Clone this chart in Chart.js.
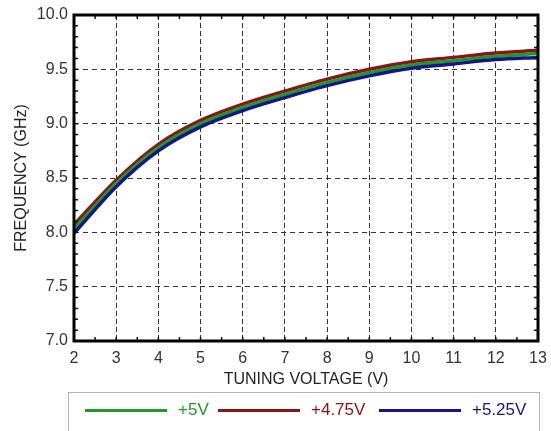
<!DOCTYPE html>
<html>
<head>
<meta charset="utf-8">
<script src="https://cdn.jsdelivr.net/npm/chart.js"></script>
<style>
    html, body { margin: 0; padding: 0; background: #fff; }
    #wrap { position: relative; width: 551px; height: 431px; }
    #legend {
        position: absolute; left: 68px; top: 392px; width: 472px; height: 45px;
        border: 1px solid #b5b5b5; box-sizing: border-box;
        font-family: "Liberation Sans", Arial, sans-serif; font-size: 17px;
    }
    .item { position: absolute; top: 5px; height: 24px; display: flex; align-items: center; }
    .item .line { display: inline-block; width: 82px; height: 3px; margin-right: 11px; }
</style>
</head>
<body>
<div id="wrap">
    <canvas id="chart" width="551" height="431"></canvas>
    <div id="legend"></div>
</div>
<script>
// Tuning voltage (V)
const voltages = [2, 3, 4, 5, 6, 7, 8, 9, 10, 11, 12, 13];
// Frequency (GHz) per supply voltage
const freq5V = [8.03, 8.45, 8.78, 9.00, 9.15, 9.27, 9.38, 9.47, 9.54, 9.58, 9.62, 9.645];
const freq475V = [8.07, 8.48, 8.81, 9.03, 9.18, 9.30, 9.41, 9.50, 9.57, 9.61, 9.65, 9.675];
const freq525V = [7.99, 8.42, 8.75, 8.97, 9.12, 9.24, 9.35, 9.44, 9.51, 9.55, 9.59, 9.61];
const seriesNames = ['+5V', '+4.75V', '+5.25V'];
const seriesColors = ['#1f9a2a', '#8b1414', '#14148c'];
const legendLeft = [16, 149, 310];

const font = '"Liberation Sans", Arial, sans-serif';

// small inward ticks on all four sides of the frame
const frameTicks = {
    id: 'frameTicks',
    afterDraw(chart) {
        const { ctx, chartArea: a, scales: { x, y } } = chart;
        ctx.save();
        ctx.strokeStyle = '#111';
        ctx.lineWidth = 1.5;
        ctx.beginPath();
        for (let v = 2; v <= 13.001; v += 0.5) {
            const px = x.getPixelForValue(v);
            ctx.moveTo(px, a.bottom); ctx.lineTo(px, a.bottom - 4);
            ctx.moveTo(px, a.top); ctx.lineTo(px, a.top + 4);
        }
        for (let v = 7; v <= 10.001; v += 0.1) {
            const py = y.getPixelForValue(v);
            ctx.moveTo(a.left, py); ctx.lineTo(a.left + 4, py);
            ctx.moveTo(a.right, py); ctx.lineTo(a.right - 4, py);
        }
        ctx.stroke();
        ctx.lineWidth = 3;
        ctx.strokeStyle = '#000';
        ctx.strokeRect(a.left, a.top, a.right - a.left, a.bottom - a.top);
        ctx.restore();
    }
};

const makeSet = (i, data) => ({
    label: seriesNames[i],
    data: data.map((f, k) => ({ x: voltages[k], y: f })),
    borderColor: seriesColors[i],
    backgroundColor: seriesColors[i],
    borderWidth: 3.5,
    pointRadius: 0,
    cubicInterpolationMode: 'monotone'
});

const gridOpts = { color: '#333', lineWidth: 1, drawTicks: false };

const chart = new Chart(document.getElementById('chart'), {
    type: 'line',
    data: {
        datasets: [makeSet(2, freq525V), makeSet(0, freq5V), makeSet(1, freq475V)]
    },
    options: {
        responsive: false,
        animation: false,
        layout: { padding: { top: 15, right: 13, bottom: 38, left: 8 } },
        plugins: { legend: { display: false }, tooltip: { enabled: false } },
        scales: {
            x: {
                type: 'linear', min: 2, max: 13,
                ticks: { stepSize: 1, color: '#333', font: { family: font, size: 16 }, padding: 8 },
                grid: gridOpts,
                border: { display: false, dash: [5, 3] },
                title: { display: true, text: 'TUNING VOLTAGE (V)', color: '#222', font: { family: font, size: 16 }, padding: { top: 0 } },
                afterFit(s) { s.height = 52; s.paddingLeft = 0; s.paddingRight = 0; }
            },
            y: {
                type: 'linear', min: 7, max: 10,
                ticks: { stepSize: 0.5, color: '#333', font: { family: font, size: 16 }, padding: 6,
                    callback: v => v.toFixed(1) },
                grid: gridOpts,
                border: { display: false, dash: [5, 4] },
                title: { display: true, text: 'FREQUENCY (GHz)', color: '#222', font: { family: font, size: 16 }, padding: { bottom: 4 } },
                afterFit(s) { s.width = 66; s.paddingTop = 0; s.paddingBottom = 0; }
            }
        }
    },
    plugins: [frameTicks]
});

// legend box under the chart
const legend = document.getElementById('legend');
[0, 1, 2].forEach((i, n) => {
    const it = document.createElement('div');
    it.className = 'item';
    it.style.left = legendLeft[n] + 'px';
    it.style.color = seriesColors[i];
    it.innerHTML = '<span class="line" style="background:' + seriesColors[i] + '"></span>' + seriesNames[i];
    legend.appendChild(it);
});
</script>
</body>
</html>
